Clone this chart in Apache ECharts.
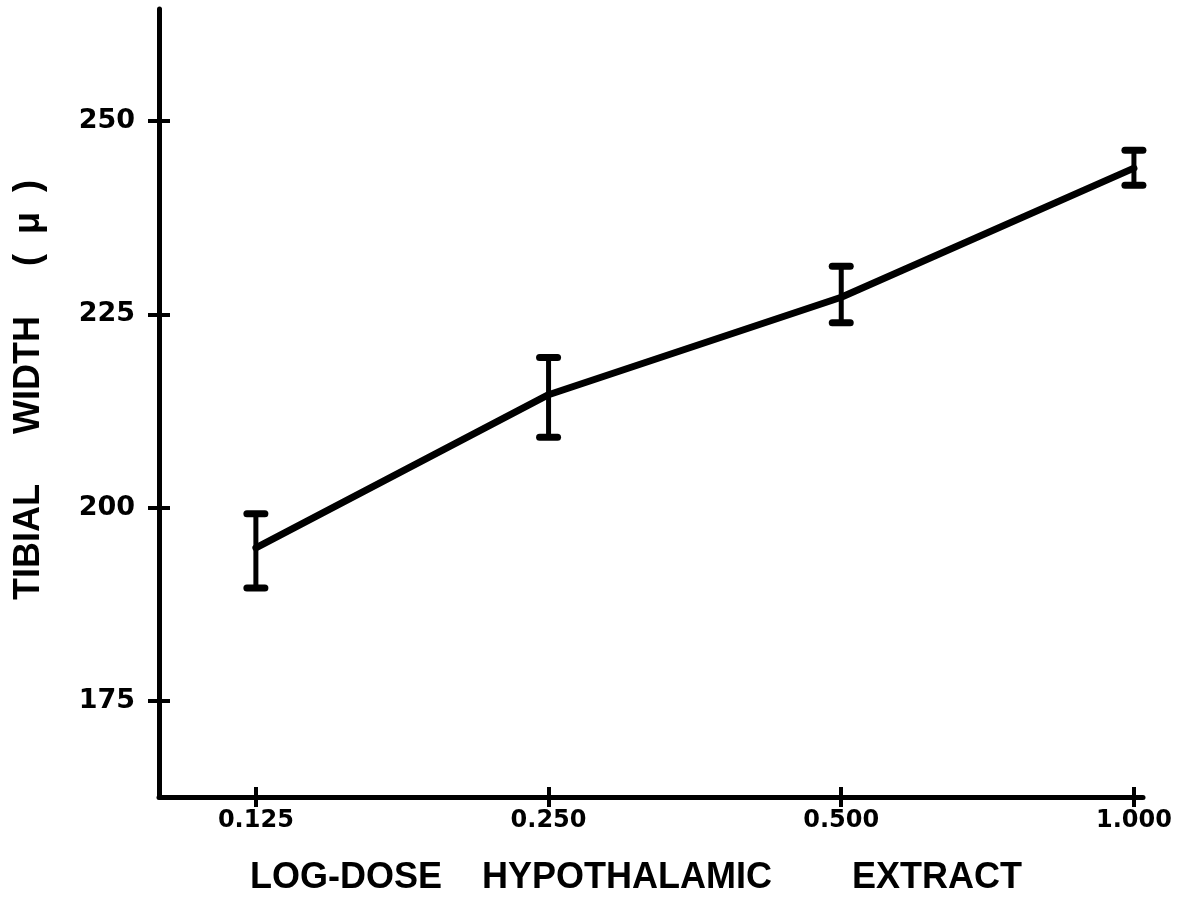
<!DOCTYPE html>
<html>
<head>
<meta charset="utf-8">
<script src="https://cdn.jsdelivr.net/npm/echarts@6/dist/echarts.min.js"></script>
<style>html,body{margin:0;padding:0;background:#fff;}#chart{width:1193px;height:920px;}</style>
</head>
<body>
<div id="chart"></div>
<script>
// Data
const doses = [0.125, 0.25, 0.5, 1.0];
const xTickLabels = ['0.125', '0.250', '0.500', '1.000'];
const meanWidth = [194.8, 214.6, 227.2, 243.9];
const errLow = [189.6, 209.1, 223.9, 241.7];
const errHigh = [199.2, 219.4, 231.2, 246.2];
const yTicks = [175, 200, 225, 250];
const xTitle = 'LOG-DOSE    HYPOTHALAMIC        EXTRACT';
const yTitle = 'TIBIAL     WIDTH     (  \u03bc  )';

const xVals = doses.map(d => Math.log2(d));
const lineData = xVals.map((x, i) => [x, meanWidth[i]]);
const errData = xVals.map((x, i) => [x, errLow[i], errHigh[i]]);

const chart = echarts.init(document.getElementById('chart'));
const ink = '#000';
const tickFont = {fontFamily: 'DejaVu Sans', fontWeight: 'bold', color: ink};

function xLabel(v) {
  const i = xVals.findIndex(x => Math.abs(x - v) < 1e-6);
  return i >= 0 ? xTickLabels[i] : '';
}

const xMin = -3.331, xMax = 0.031, yMin = 162.58, yMax = 264.48;

chart.setOption({
  animation: false,
  backgroundColor: '#fff',
  grid: {left: 159, right: 50, top: 9, bottom: 123, containLabel: false},
  xAxis: [{
    type: 'value', min: xMin, max: xMax, position: 'bottom',
    axisLine: {show: true, onZero: false, lineStyle: {color: ink, width: 5, cap: 'round'}},
    axisTick: {show: true, inside: false, length: 10, customValues: xVals, lineStyle: {color: ink, width: 4}},
    axisLabel: {show: true, customValues: xVals, formatter: xLabel, margin: 12, fontSize: 24, ...tickFont},
    splitLine: {show: false}
  }, {
    type: 'value', min: xMin, max: xMax, position: 'bottom',
    axisLine: {show: false, onZero: false},
    axisTick: {show: true, inside: true, length: 10, customValues: xVals, lineStyle: {color: ink, width: 4}},
    axisLabel: {show: false},
    splitLine: {show: false}
  }],
  yAxis: [{
    type: 'value', min: yMin, max: yMax, position: 'left',
    axisLine: {show: true, onZero: false, lineStyle: {color: ink, width: 5, cap: 'round'}},
    axisTick: {show: true, inside: false, length: 11, customValues: yTicks, lineStyle: {color: ink, width: 4}},
    axisLabel: {show: true, customValues: yTicks, margin: 24, fontSize: 27, ...tickFont},
    splitLine: {show: false}
  }, {
    type: 'value', min: yMin, max: yMax, position: 'left',
    axisLine: {show: false, onZero: false},
    axisTick: {show: true, inside: true, length: 11, customValues: yTicks, lineStyle: {color: ink, width: 4}},
    axisLabel: {show: false},
    splitLine: {show: false}
  }],
  graphic: [{
    type: 'text', x: 636, y: 878,
    style: {text: xTitle, fontFamily: 'Liberation Sans', fontWeight: 'bold', fontSize: 36, fill: ink,
            align: 'center', verticalAlign: 'middle'}
  }, {
    type: 'text', x: 29, y: 390, rotation: Math.PI / 2,
    style: {text: yTitle, fontFamily: 'Liberation Sans', fontWeight: 'bold', fontSize: 36, fill: ink,
            align: 'center', verticalAlign: 'middle'}
  }],
  series: [{
    type: 'line', data: lineData, symbol: 'none', xAxisIndex: 0, yAxisIndex: 0,
    lineStyle: {color: ink, width: 7, cap: 'round', join: 'round'}, z: 3
  }, {
    type: 'custom', data: errData, xAxisIndex: 0, yAxisIndex: 0, z: 4,
    renderItem: function (params, api) {
      const x = api.value(0);
      const lo = api.coord([x, api.value(1)]);
      const hi = api.coord([x, api.value(2)]);
      const hw = 9;
      const st = {stroke: ink, lineWidth: 7, lineCap: 'round'};
      return {type: 'group', children: [
        {type: 'line', shape: {x1: lo[0], y1: lo[1], x2: hi[0], y2: hi[1]}, style: {stroke: ink, lineWidth: 5}},
        {type: 'line', shape: {x1: hi[0] - hw, y1: hi[1], x2: hi[0] + hw, y2: hi[1]}, style: st},
        {type: 'line', shape: {x1: lo[0] - hw, y1: lo[1], x2: lo[0] + hw, y2: lo[1]}, style: st}
      ]};
    }
  }]
});
</script>
</body>
</html>
